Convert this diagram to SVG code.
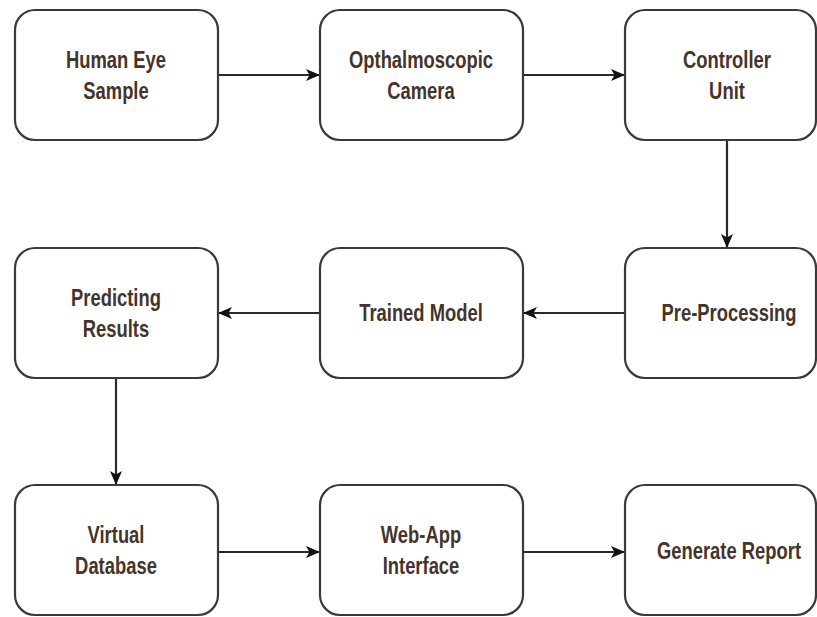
<svg xmlns="http://www.w3.org/2000/svg" width="817" height="617" viewBox="0 0 817 617">
<style>
.box{fill:#fff;stroke:#3a3a3a;stroke-width:2.2}
.t{font-family:"Liberation Sans",Arial,sans-serif;font-weight:bold;font-size:23px;fill:#45342a;text-anchor:middle}
.c{stroke:#2a2a2a;stroke-width:2.2;fill:none;marker-end:url(#ah)}
</style>
<defs>
<marker id="ah" markerUnits="userSpaceOnUse" markerWidth="16" markerHeight="16" viewBox="0 0 16 16" refX="14" refY="8" orient="auto">
<path d="M0,2 L14,8 L0,14 L3.5,8 Z" fill="#111"/>
</marker>
</defs>
<rect width="817" height="617" fill="#fff"/>
<g id="connectors">
<line class="c" x1="218" y1="75" x2="320" y2="75"/>
<line class="c" x1="523" y1="75" x2="625" y2="75"/>
<line class="c" x1="727" y1="140" x2="727" y2="248"/>
<line class="c" x1="625" y1="313" x2="523" y2="313"/>
<line class="c" x1="320" y1="313" x2="218" y2="313"/>
<line class="c" x1="116" y1="378" x2="116" y2="485"/>
<line class="c" x1="218" y1="552" x2="320" y2="552"/>
<line class="c" x1="523" y1="552" x2="625" y2="552"/>
</g>
<g id="n1"><rect class="box" x="15" y="10" width="203" height="130" rx="20"/><g transform="translate(116,0) scale(0.8,1)"><text class="t" x="0" y="68">Human Eye</text><text class="t" x="0" y="99">Sample</text></g></g>
<g id="n2"><rect class="box" x="320" y="10" width="203" height="130" rx="20"/><g transform="translate(421,0) scale(0.8,1)"><text class="t" x="0" y="68">Opthalmoscopic</text><text class="t" x="0" y="99">Camera</text></g></g>
<g id="n3"><rect class="box" x="625" y="10" width="191" height="130" rx="20"/><g transform="translate(727,0) scale(0.8,1)"><text class="t" x="0" y="68">Controller</text><text class="t" x="0" y="99">Unit</text></g></g>
<g id="n4"><rect class="box" x="15" y="248" width="203" height="130" rx="20"/><g transform="translate(116,0) scale(0.8,1)"><text class="t" x="0" y="306">Predicting</text><text class="t" x="0" y="337">Results</text></g></g>
<g id="n5"><rect class="box" x="320" y="248" width="203" height="130" rx="20"/><g transform="translate(421,0) scale(0.8,1)"><text class="t" x="0" y="321">Trained Model</text></g></g>
<g id="n6"><rect class="box" x="625" y="248" width="191" height="130" rx="20"/><g transform="translate(729,0) scale(0.8,1)"><text class="t" x="0" y="321">Pre-Processing</text></g></g>
<g id="n7"><rect class="box" x="15" y="485" width="203" height="130" rx="20"/><g transform="translate(116,0) scale(0.8,1)"><text class="t" x="0" y="543">Virtual</text><text class="t" x="0" y="574">Database</text></g></g>
<g id="n8"><rect class="box" x="320" y="485" width="203" height="130" rx="20"/><g transform="translate(421,0) scale(0.8,1)"><text class="t" x="0" y="543">Web-App</text><text class="t" x="0" y="574">Interface</text></g></g>
<g id="n9"><rect class="box" x="625" y="485" width="191" height="130" rx="20"/><g transform="translate(729,0) scale(0.8,1)"><text class="t" x="0" y="559">Generate Report</text></g></g>
</svg>
